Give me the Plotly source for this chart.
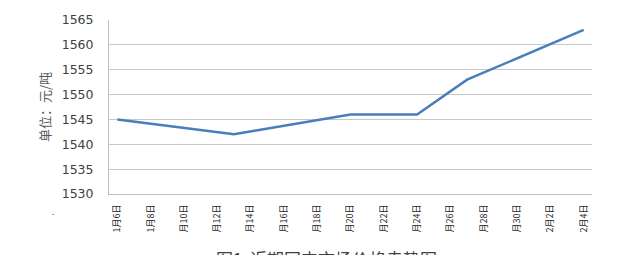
import plotly.graph_objects as go

# Data
axis_days = [f"1月{d}日" for d in range(6, 32)] + ["2月2日", "2月3日", "2月4日"]
tick_days = axis_days[0::2]
tick_labels = ["1月6日", "1月8日", "月10日", "月12日", "月14日", "月16日", "月18日",
               "月20日", "月22日", "月24日", "月26日", "月28日", "月30日", "2月2日", "2月4日"]
dates = ["1月6日", "1月13日", "1月20日", "1月24日", "1月27日", "2月4日"]
values = [1545, 1542, 1546, 1546, 1553, 1563]
y_ticks = [1530, 1535, 1540, 1545, 1550, 1555, 1560, 1565]

fig = go.Figure()
fig.add_trace(go.Scatter(x=dates, y=values, mode="lines",
                         line=dict(color="#4A7EBB", width=2.5), showlegend=False))

fig.update_layout(
    width=625, height=255,
    margin=dict(l=109, r=33, t=18, b=61),
    paper_bgcolor="white", plot_bgcolor="white",
    font=dict(family="Noto Sans CJK SC", color="#404040"),
)
fig.update_xaxes(
    type="category", categoryorder="array", categoryarray=axis_days,
    range=[-0.5, len(axis_days) - 0.5],
    tickmode="array", tickvals=tick_days, ticktext=tick_labels,
    tickangle=-90, tickfont=dict(size=9, family="Noto Sans CJK SC", color="#262626"),
    showgrid=False, showline=True, linecolor="#BFBFBF", linewidth=1,
    ticks="", ticklabelstandoff=6, zeroline=False,
)
fig.update_yaxes(
    range=[1530, 1565], tickmode="array", tickvals=y_ticks,
    tickfont=dict(size=12.5, family="DejaVu Sans", color="#404040"),
    showgrid=True, gridcolor="#C8C8C8", gridwidth=1,
    showline=True, linecolor="#BFBFBF", linewidth=1,
    ticks="", ticklabelstandoff=12, zeroline=False,
    title=dict(text="单位：元/吨", font=dict(size=13, family="Noto Sans CJK SC", color="#595959"),
               standoff=8),
)
fig.add_annotation(text="图1  近期国内市场价格走势图", xref="paper", yref="paper",
                   x=0.45, y=-0.29, xanchor="center", yanchor="top", showarrow=False,
                   font=dict(size=17, family="Noto Sans CJK SC", color="#404040"))
fig.add_annotation(text=".", xref="paper", yref="paper", x=-0.115, y=-0.1,
                   xanchor="center", yanchor="middle", showarrow=False,
                   font=dict(size=8, color="#404040"))

fig.write_html("out.html")
